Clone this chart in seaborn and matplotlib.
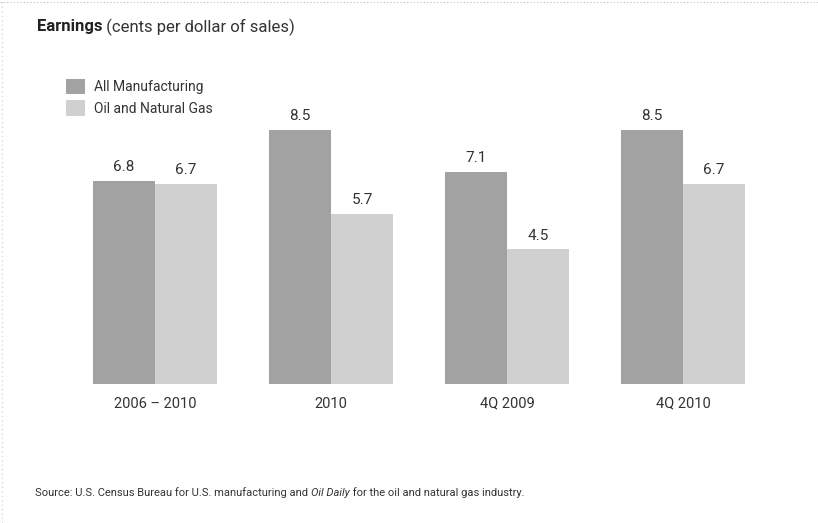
import matplotlib
matplotlib.use("Agg")
import matplotlib.pyplot as plt
import seaborn as sns
import pandas as pd
from matplotlib.patches import Patch
from matplotlib.lines import Line2D

# Earnings in cents per dollar of sales
periods = ["2006 – 2010", "2010", "4Q 2009", "4Q 2010"]
all_manufacturing = [6.8, 8.5, 7.1, 8.5]
oil_and_gas = [6.7, 5.7, 4.5, 6.7]
series_names = ["All Manufacturing", "Oil and Natural Gas"]
series_colors = ["#a2a2a2", "#d0d0d0"]

df = pd.DataFrame({
    "period": periods * 2,
    "value": all_manufacturing + oil_and_gas,
    "series": [series_names[0]] * len(periods) + [series_names[1]] * len(periods),
})

sns.set_theme(style="white")
plt.rcParams["font.family"] = ["Roboto", "DejaVu Sans"]

W, H = 818, 523
fig = plt.figure(figsize=(W / 100, H / 100), dpi=100)
fig.patch.set_facecolor("white")
ax = fig.add_axes([67 / W, (H - 384) / H, 704 / W, 9.5 * 29.9 / H])

sns.barplot(data=df, x="period", y="value", hue="series", order=periods,
            hue_order=series_names, palette=series_colors, width=0.705,
            saturation=1, linewidth=0, ax=ax, legend=False)

for cont in ax.containers:
    ax.bar_label(cont, fmt="%.1f", padding=5, fontsize=11, color="#333333")

ax.set_xlim(-0.5, 3.5)
ax.set_ylim(0, 9.5)
ax.set_xlabel("")
ax.set_ylabel("")
ax.set_yticks([])
ax.tick_params(axis="x", length=0, labelsize=10.5, labelcolor="#333333", pad=9)
for s in ax.spines.values():
    s.set_visible(False)

# Dotted frame along the top and left edges
fig.add_artist(Line2D([0, 1], [1 - 2 / H, 1 - 2 / H], transform=fig.transFigure,
                      color="#bbbbbb", lw=0.8, ls=(0, (1, 2))))
fig.add_artist(Line2D([2 / W, 2 / W], [0, 1], transform=fig.transFigure,
                      color="#cccccc", lw=0.8, ls=(0, (1, 3))))


def chain_text(x_px, y, parts):
    """Draw text pieces one after another on the same baseline."""
    x = x_px / W
    for txt, kw in parts:
        t = fig.text(x, y, txt, va="center", ha="left", **kw)
        fig.canvas.draw()
        x = t.get_window_extent().x1 / fig.bbox.width


# Title
chain_text(37, 1 - 27 / H, [
    ("Earnings", dict(fontsize=12, fontweight="bold", color="#222222")),
    (" (cents per dollar of sales)", dict(fontsize=12, color="#333333")),
])

# Legend
handles = [Patch(facecolor=c, edgecolor="none") for c in series_colors]
fig.legend(handles, series_names, loc="upper left",
           bbox_to_anchor=(66 / W, 1 - 79 / H), frameon=False, borderpad=0,
           borderaxespad=0, fontsize=10, handlelength=1.37, handleheight=1.3,
           handletextpad=0.65, labelspacing=0.45, labelcolor="#333333")

# Source note
chain_text(35, 1 - 493 / H, [
    ("Source: U.S. Census Bureau for U.S. manufacturing and ",
     dict(fontsize=8, color="#333333")),
    ("Oil Daily", dict(fontsize=8, style="italic", color="#333333")),
    (" for the oil and natural gas industry.", dict(fontsize=8, color="#333333")),
])

fig.savefig("out.png", dpi=100, facecolor="white")
